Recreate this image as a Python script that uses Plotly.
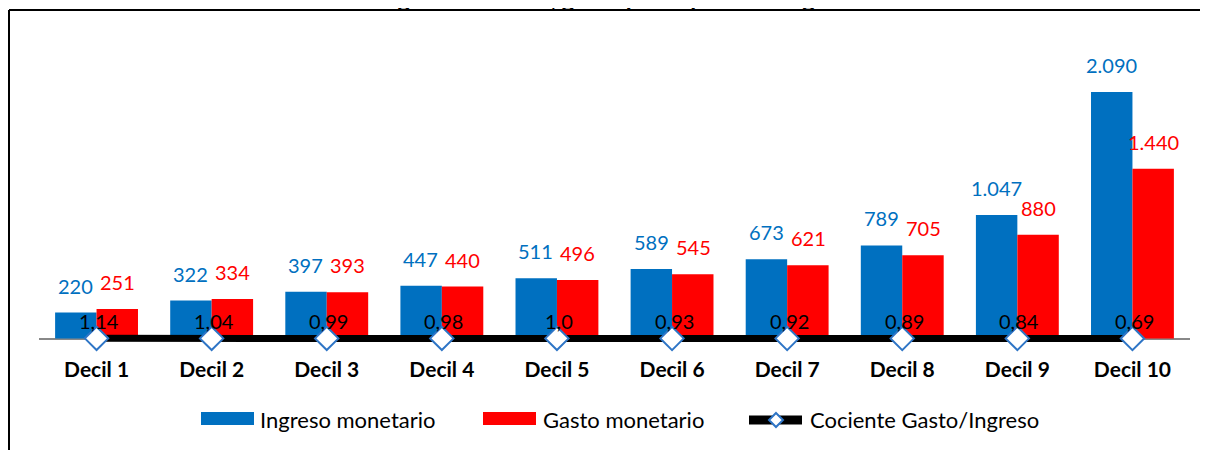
import plotly.graph_objects as go

# datos por decil
deciles = ["Decil 1", "Decil 2", "Decil 3", "Decil 4", "Decil 5",
           "Decil 6", "Decil 7", "Decil 8", "Decil 9", "Decil 10"]
ingreso = [220, 322, 397, 447, 511, 589, 673, 789, 1047, 2090]
gasto = [251, 334, 393, 440, 496, 545, 621, 705, 880, 1440]
cociente = [1.14, 1.04, 0.99, 0.98, 1.0, 0.93, 0.92, 0.89, 0.84, 0.69]
ingreso_txt = ["220", "322", "397", "447", "511", "589", "673", "789", "1.047", "2.090"]
gasto_txt = ["251", "334", "393", "440", "496", "545", "621", "705", "880", "1.440"]
cociente_txt = ["1,14", "1,04", "0,99", "0,98", "1,0", "0,93", "0,92", "0,89", "0,84", "0,69"]
# titulo: en la imagen original solo se ven los trazos inferiores
titulo = "Ingreso mensual, gasto per cápita del hogar"

AZUL = "#0070C0"
ROJO = "#FF0000"
BORDE = "#2E75C6"
FONT = "Lato"

# la pagina deja 8px de margen en el body, todo va corrido 8px
W, H = 1200, 442
L, R, T, B = 31, 1182, 32, 342
BASE = 330.5          # linea del cero en px
K = 0.11794           # px por unidad


def px_x(x):
    return (x - L) / (R - L)


def px_y(y):
    return (B - y) / (B - T)


fig = go.Figure()
fig.add_trace(go.Bar(x=deciles, y=ingreso, name="Ingreso monetario",
                     marker=dict(color=AZUL, line=dict(width=0))))
fig.add_trace(go.Bar(x=deciles, y=gasto, name="Gasto monetario",
                     marker=dict(color=ROJO, line=dict(width=0))))
fig.add_trace(go.Scatter(x=deciles, y=cociente, name="Cociente Gasto/Ingreso",
                         mode="lines+markers", cliponaxis=False,
                         line=dict(color="black", width=7),
                         marker=dict(symbol="diamond", size=18, color="white",
                                     line=dict(color=BORDE, width=2))))

ann = []
for d, v, t in zip(deciles, ingreso, ingreso_txt):
    ann.append(dict(x=d, y=v, text=t, xshift=-21, yshift=13, yanchor="bottom",
                    showarrow=False, font=dict(family=FONT, size=20, color=AZUL)))
for d, v, t in zip(deciles, gasto, gasto_txt):
    ann.append(dict(x=d, y=v, text=t, xshift=21, yshift=13, yanchor="bottom",
                    showarrow=False, font=dict(family=FONT, size=20, color=ROJO)))
for d, v, t in zip(deciles, cociente, cociente_txt):
    ann.append(dict(x=d, y=v, text=t, xshift=2, yshift=3, yanchor="bottom",
                    showarrow=False, font=dict(family=FONT, size=20, color="black")))

ann.append(dict(x=px_x(598), y=px_y(6), xref="paper", yref="paper", text="<b>" + titulo + "</b>",
                xanchor="center", yanchor="bottom", showarrow=False,
                font=dict(family=FONT, size=24, color="black")))

# leyenda manual
ley_y = 411
items = [("Ingreso monetario", 250), ("Gasto monetario", 533), ("Cociente Gasto/Ingreso", 800)]
for txt, x0 in items:
    ann.append(dict(x=px_x(x0), y=px_y(ley_y), xref="paper", yref="paper", text=txt,
                    xanchor="left", yanchor="middle", showarrow=False,
                    font=dict(family=FONT, size=22, color="black")))

shapes = [
    dict(type="rect", xref="paper", yref="paper", x0=px_x(193), x1=px_x(246),
         y0=px_y(417), y1=px_y(404), fillcolor=AZUL, line=dict(width=0)),
    dict(type="rect", xref="paper", yref="paper", x0=px_x(475), x1=px_x(528),
         y0=px_y(417), y1=px_y(404), fillcolor=ROJO, line=dict(width=0)),
    dict(type="line", xref="paper", yref="paper", x0=px_x(741), x1=px_x(794),
         y0=px_y(ley_y + 1), y1=px_y(ley_y + 1), line=dict(color="black", width=9)),
    dict(type="path", xref="paper", yref="paper",
         path="M {} {} L {} {} L {} {} L {} {} Z".format(
             px_x(768), px_y(ley_y - 6), px_x(775), px_y(ley_y + 1),
             px_x(768), px_y(ley_y + 8), px_x(761), px_y(ley_y + 1)),
         fillcolor="white", line=dict(color=BORDE, width=2)),
    # marco
    dict(type="line", xref="paper", yref="paper", x0=px_x(1), x1=px_x(1210),
         y0=px_y(2), y1=px_y(2), line=dict(color="black", width=2)),
    dict(type="line", xref="paper", yref="paper", x0=px_x(1), x1=px_x(1),
         y0=px_y(2), y1=px_y(460), line=dict(color="black", width=2)),
]

fig.update_layout(
    width=W, height=H,
    margin=dict(l=L, r=W - R, t=T, b=H - B),
    paper_bgcolor="white", plot_bgcolor="white",
    barmode="group", bargap=0.28, bargroupgap=0,
    showlegend=False,
    annotations=ann, shapes=shapes,
    font=dict(family=FONT),
)
fig.update_xaxes(range=[-0.5, 9.5], showline=False, showgrid=False,
                 ticks="outside", ticklen=1, tickcolor="rgba(0,0,0,0)",
                 tickfont=dict(family=FONT, size=21, color="black", weight="bold"))
fig.update_yaxes(range=[-(B - BASE) / K, (BASE - T) / K], showticklabels=False,
                 showgrid=False, showline=False, ticks="",
                 zeroline=True, zerolinecolor="#888888", zerolinewidth=2)

fig.write_html("out.html")
